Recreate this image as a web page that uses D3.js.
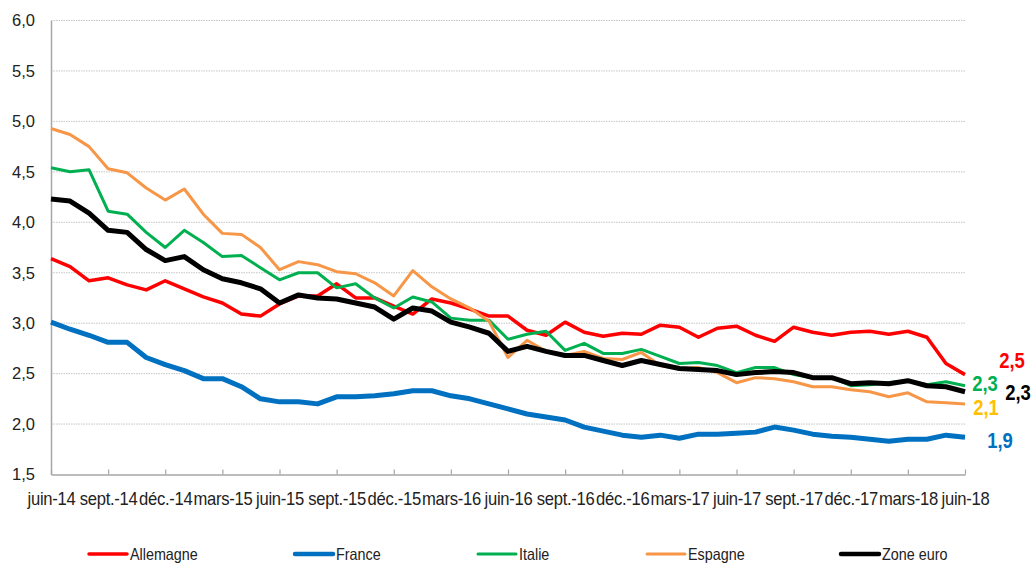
<!DOCTYPE html>
<html>
<head>
<meta charset="utf-8">
<script src="https://cdn.jsdelivr.net/npm/d3@7"></script>
<style>
  body { margin: 0; background: #fff; }
  svg { display: block; font-family: "Liberation Sans", Arial, sans-serif; }
</style>
</head>
<body>
<div id="chart"></div>
<script>
// monthly categories, juin-14 .. juin-18
const categories = [
  "juin-14","juil.-14","août-14","sept.-14","oct.-14","nov.-14","déc.-14",
  "janv.-15","févr.-15","mars-15","avr.-15","mai-15","juin-15","juil.-15","août-15",
  "sept.-15","oct.-15","nov.-15","déc.-15","janv.-16","févr.-16","mars-16","avr.-16",
  "mai-16","juin-16","juil.-16","août-16","sept.-16","oct.-16","nov.-16","déc.-16",
  "janv.-17","févr.-17","mars-17","avr.-17","mai-17","juin-17","juil.-17","août-17",
  "sept.-17","oct.-17","nov.-17","déc.-17","janv.-18","févr.-18","mars-18","avr.-18",
  "mai-18","juin-18"
];
const tickLabels = [
  "juin-14","sept.-14","déc.-14","mars-15","juin-15","sept.-15","déc.-15","mars-16",
  "juin-16","sept.-16","déc.-16","mars-17","juin-17","sept.-17","déc.-17","mars-18","juin-18"
];
const yTicks = [1.5, 2.0, 2.5, 3.0, 3.5, 4.0, 4.5, 5.0, 5.5, 6.0];

const allemagne = [3.64,3.56,3.42,3.45,3.38,3.33,3.42,3.34,3.26,3.20,3.09,3.07,3.19,3.27,3.27,3.39,
  3.25,3.25,3.17,3.09,3.24,3.20,3.14,3.07,3.07,2.93,2.88,3.01,2.91,2.87,2.90,2.89,
  2.98,2.96,2.86,2.95,2.97,2.88,2.82,2.96,2.91,2.88,2.91,2.92,2.89,2.92,2.86,2.60,2.49];
const france = [3.01,2.94,2.88,2.81,2.81,2.66,2.59,2.53,2.45,2.45,2.37,2.25,2.22,2.22,2.20,2.27,
  2.27,2.28,2.30,2.33,2.33,2.28,2.25,2.20,2.15,2.10,2.07,2.04,1.97,1.93,1.89,1.87,
  1.89,1.86,1.90,1.90,1.91,1.92,1.97,1.94,1.90,1.88,1.87,1.85,1.83,1.85,1.85,1.89,1.87];
const italie = [4.54,4.50,4.52,4.11,4.08,3.90,3.75,3.92,3.80,3.66,3.67,3.55,3.43,3.50,3.50,3.35,
  3.39,3.25,3.15,3.26,3.21,3.05,3.03,3.03,2.84,2.89,2.92,2.73,2.80,2.70,2.70,2.74,
  2.67,2.60,2.61,2.58,2.51,2.56,2.56,2.49,2.46,2.46,2.38,2.39,2.41,2.43,2.39,2.42,2.38];
const espagne = [4.93,4.87,4.75,4.53,4.49,4.34,4.22,4.33,4.08,3.89,3.88,3.75,3.53,3.61,3.58,3.51,
  3.49,3.40,3.27,3.52,3.36,3.24,3.15,3.02,2.66,2.83,2.72,2.68,2.72,2.65,2.64,2.71,
  2.58,2.55,2.56,2.51,2.41,2.46,2.45,2.42,2.37,2.37,2.34,2.32,2.27,2.31,2.22,2.21,2.20];
const zoneEuro = [4.23,4.21,4.09,3.92,3.90,3.73,3.62,3.66,3.53,3.44,3.40,3.34,3.20,3.28,3.25,3.24,
  3.20,3.16,3.04,3.15,3.12,3.01,2.96,2.90,2.72,2.77,2.72,2.68,2.68,2.63,2.58,2.63,
  2.59,2.55,2.54,2.53,2.49,2.51,2.52,2.51,2.46,2.46,2.40,2.41,2.40,2.43,2.38,2.37,2.32];

const seriesNames = ["Allemagne", "France", "Italie", "Espagne", "Zone euro"];
const endLabels = ["2,5", "1,9", "2,3", "2,1", "2,3"];

// styling / layout
const series = [
  {name: seriesNames[0], values: allemagne, color: "#ff0000", width: 3.5, label: endLabels[0], labelColor: "#ff0000", dx: 47, dy: -14},
  {name: seriesNames[1], values: france,    color: "#0070c0", width: 5,   label: endLabels[1], labelColor: "#0070c0", dx: 35, dy: 3},
  {name: seriesNames[2], values: italie,    color: "#00b050", width: 3,   label: endLabels[2], labelColor: "#00b050", dx: 20, dy: -2},
  {name: seriesNames[3], values: espagne,   color: "#f79646", width: 3,   label: endLabels[3], labelColor: "#ffc000", dx: 21, dy: 3},
  {name: seriesNames[4], values: zoneEuro,  color: "#000000", width: 5,   label: endLabels[4], labelColor: "#000000", dx: 53, dy: 1}
];
const legendX = [89, 295, 478, 647, 841];

const width = 1035, height = 563;
const plot = {left: 51, right: 965, top: 20.5, bottom: 474.5};

const svg = d3.select("#chart").append("svg")
  .attr("width", width)
  .attr("height", height);

const x = d3.scalePoint().domain(categories).range([plot.left, plot.right]);
const y = d3.scaleLinear().domain([1.5, 6]).range([plot.bottom, plot.top]);
const fmt = v => d3.format(".1f")(v).replace(".", ",");

// gridlines
svg.append("g")
  .selectAll("line")
  .data(yTicks.filter(d => d > 1.5))
  .join("line")
  .attr("x1", plot.left).attr("x2", plot.right)
  .attr("y1", d => y(d)).attr("y2", d => y(d))
  .attr("stroke", "#c4c4c4")
  .attr("stroke-width", 1)
  .attr("stroke-dasharray", "1.5,1");

// y axis
const yAxis = svg.append("g")
  .attr("transform", `translate(${plot.left},0)`)
  .call(d3.axisLeft(y).tickValues(yTicks).tickFormat(fmt).tickSize(0).tickPadding(16));
yAxis.select(".domain").attr("stroke", "#a6a6a6").attr("stroke-width", 1.5);
yAxis.selectAll("text")
  .attr("font-size", 16.5)
  .attr("font-family", "'Liberation Sans', Arial, sans-serif")
  .attr("fill", "#222");

// x axis, ticks pointing up; labels packed edge to edge like the original
const xAxis = svg.append("g")
  .attr("transform", `translate(0,${plot.bottom})`)
  .call(d3.axisBottom(x).tickValues(tickLabels).tickSizeInner(-5).tickSizeOuter(0).tickPadding(18));
xAxis.select(".domain").attr("stroke", "#a6a6a6").attr("stroke-width", 1.5);
xAxis.selectAll(".tick line").attr("stroke", "#a6a6a6").attr("stroke-width", 1.2);
xAxis.selectAll("text")
  .attr("font-size", 17.5)
  .attr("font-family", "'Liberation Sans', Arial, sans-serif")
  .attr("transform", "scale(0.95,1)")
  .attr("letter-spacing", "-0.3px")
  .attr("fill", "#222");

// lines
const line = d3.line()
  .x((d, i) => x(categories[i]))
  .y(d => y(d));

svg.append("g")
  .selectAll("path")
  .data(series)
  .join("path")
  .attr("d", d => line(d.values))
  .attr("fill", "none")
  .attr("stroke", d => d.color)
  .attr("stroke-width", d => d.width)
  .attr("stroke-linejoin", "round");

// end-of-line value labels
const last = categories[categories.length - 1];
svg.append("g")
  .selectAll("text")
  .data(series)
  .join("text")
  .attr("x", d => x(last) + d.dx)
  .attr("y", d => y(d.values[d.values.length - 1]) + d.dy)
  .attr("dy", "0.35em")
  .attr("text-anchor", "middle")
  .attr("font-size", 22)
  .attr("font-weight", "bold")
  .attr("fill", d => d.labelColor)
  .attr("transform", d => {
    const cx = x(last) + d.dx;
    return `translate(${cx},0) scale(0.84,1) translate(${-cx},0)`;
  })
  .text(d => d.label);

// legend
const legend = svg.append("g")
  .selectAll("g")
  .data(series)
  .join("g")
  .attr("transform", (d, i) => `translate(${legendX[i]},554)`);

legend.append("line")
  .attr("x1", 0).attr("x2", 38)
  .attr("stroke", d => d.color)
  .attr("stroke-width", d => Math.min(d.width, 4.5))
  .attr("stroke-linecap", "round");

legend.append("text")
  .attr("transform", "translate(41,0) scale(0.87,1)")
  .attr("dy", "0.35em")
  .attr("font-size", 16.5)
  .attr("fill", "#222")
  .text(d => d.name);
</script>
</body>
</html>
